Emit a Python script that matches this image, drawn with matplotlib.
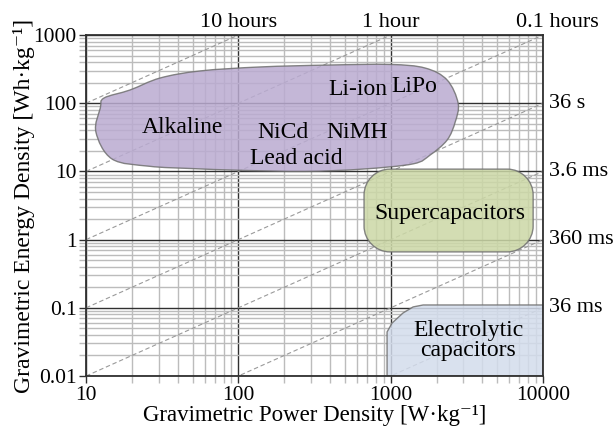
import numpy as np
import matplotlib
matplotlib.use("Agg")
from matplotlib import pyplot as plt
from matplotlib.path import Path
from matplotlib.patches import PathPatch
from matplotlib.ticker import LogLocator, NullFormatter, FixedLocator, FixedFormatter

plt.rcParams['font.family'] = ['Liberation Serif', 'DejaVu Serif']
plt.rcParams['mathtext.fontset'] = 'stix'

# axis ticks
x_ticks = [10, 100, 1000, 10000]
x_labels = ['10', '100', '1000', '10000']
y_ticks = [0.01, 0.1, 1, 10, 100, 1000]
y_labels = ['0.01', '0.1', '1', '10', '100', '1000']

# constant discharge time lines (hours)
hours = [10, 1, 0.1, 0.01, 0.001, 0.0001, 0.00001]
top_labels = ['10 hours', '1 hour', '0.1 hours']
top_pos = [100, 1000, 12500]
right_labels = ['36 s', '3.6 ms', '360 ms', '36 ms']
right_pos = [100, 10, 1, 0.1]

# region outlines (power W/kg, energy Wh/kg)
battery_p = [11.6, 12.4, 13.1, 19.4, 30.6, 56, 139, 400, 990, 1680, 2345, 2770,
             2650, 2345, 1815, 1403, 649, 274, 100, 50, 26, 14.8]
battery_e = [37.8, 85, 119, 156, 234, 297, 340, 363, 370, 328, 219, 100,
             53, 28.8, 17.4, 12.9, 10.8, 10.0, 10.4, 11.0, 11.9, 15.2]

supercap_box = [668, 8610, 0.66, 10.8]   # pmin, pmax, emin, emax

elec_p = [946, 946, 1021, 1205, 1403, 1633, 10000, 10000]
elec_e = [0.01, 0.0442, 0.0598, 0.084, 0.103, 0.110, 0.110, 0.01]

labels = ['Alkaline', 'NiCd', 'NiMH', 'Lead acid', 'Li-ion', 'LiPo',
          'Supercapacitors', 'Electrolytic\ncapacitors']
label_p = [42.7, 196, 601, 239, 611, 1425, 2455, 3222]
label_e = [43.3, 36.6, 37.8, 15.2, 161, 173, 2.45, 0.033]


def smooth_closed(px, py):
    # catmull-rom through the points, done in log space
    pts = np.column_stack([np.log10(px), np.log10(py)])
    n = len(pts)
    verts = [pts[0]]
    codes = [Path.MOVETO]
    for i in range(n):
        p0 = pts[i - 1]
        p1 = pts[i]
        p2 = pts[(i + 1) % n]
        p3 = pts[(i + 2) % n]
        verts += [p1 + (p2 - p0) / 6, p2 - (p3 - p1) / 6, p2]
        codes += [Path.CURVE4] * 3
    verts.append(pts[0])
    codes.append(Path.CLOSEPOLY)
    return Path(10 ** np.array(verts), codes)


def rounded_box(x0, x1, y0, y1, rx, ry):
    a0, a1, b0, b1 = np.log10([x0, x1, y0, y1])
    k = 0.55
    v = [(a0 + rx, b0), (a1 - rx, b0),
         (a1 - rx + k * rx, b0), (a1, b0 + ry - k * ry), (a1, b0 + ry),
         (a1, b1 - ry),
         (a1, b1 - ry + k * ry), (a1 - rx + k * rx, b1), (a1 - rx, b1),
         (a0 + rx, b1),
         (a0 + rx - k * rx, b1), (a0, b1 - ry + k * ry), (a0, b1 - ry),
         (a0, b0 + ry),
         (a0, b0 + ry - k * ry), (a0 + rx - k * rx, b0), (a0 + rx, b0),
         (a0 + rx, b0)]
    c = [Path.MOVETO, Path.LINETO] + [Path.CURVE4] * 3 + [Path.LINETO] + \
        [Path.CURVE4] * 3 + [Path.LINETO] + [Path.CURVE4] * 3 + [Path.LINETO] + \
        [Path.CURVE4] * 3 + [Path.CLOSEPOLY]
    return Path(10 ** np.array(v), c)


fig = plt.figure(figsize=(6.15, 4.30), dpi=100)
ax = fig.add_axes([0.140, 0.1256, 0.743, 0.793])
ax.set_xscale('log')
ax.set_yscale('log')
ax.set_xlim(10, 10000)
ax.set_ylim(0.01, 1000)

ax.xaxis.set_major_locator(FixedLocator(x_ticks))
ax.xaxis.set_major_formatter(FixedFormatter(x_labels))
ax.yaxis.set_major_locator(FixedLocator(y_ticks))
ax.yaxis.set_major_formatter(FixedFormatter(y_labels))
ax.xaxis.set_minor_locator(LogLocator(10, subs=range(2, 10)))
ax.yaxis.set_minor_locator(LogLocator(10, subs=range(2, 10)))
ax.xaxis.set_minor_formatter(NullFormatter())
ax.yaxis.set_minor_formatter(NullFormatter())

ax.set_axisbelow(True)
ax.grid(which='minor', color='#bcbcbc', lw=1.0)
ax.grid(which='major', color='#303030', lw=1.0)
ax.tick_params(which='major', direction='out', length=5, width=1.0,
               color='#303030', labelsize=15.5, pad=2)
ax.tick_params(which='minor', direction='out', length=5, width=1.0,
               color='#bcbcbc')
for s in ax.spines.values():
    s.set_color('#303030')
    s.set_linewidth(1.3)

pp = np.array([10, 10000])
for h in hours:
    ax.plot(pp, pp * h, color='#9a9a9a', lw=0.8, ls=(0, (4, 2.5)), zorder=1.5)

ax.add_patch(PathPatch(smooth_closed(battery_p, battery_e), fc='#baabd1',
                       ec='#707070', lw=1.0, alpha=0.85, zorder=2))
ax.add_patch(PathPatch(rounded_box(*supercap_box, 0.17, 0.38), fc='#ccd8a6',
                       ec='#707070', lw=1.0, alpha=0.85, zorder=2))
ax.fill(elec_p, elec_e, fc='#d3dcec', ec='#707070', lw=1.0, alpha=0.85, zorder=2)

for t, p, e in zip(labels, label_p, label_e):
    ax.text(p, e, t, ha='center', va='center', fontsize=17, zorder=4,
            linespacing=0.95)

for t, p in zip(top_labels, top_pos):
    ax.text(p, 1.01, t, transform=ax.get_xaxis_transform(), ha='center',
            va='bottom', fontsize=16, clip_on=False)
for t, e in zip(right_labels, right_pos):
    ax.text(1.013, e, t, transform=ax.get_yaxis_transform(), ha='left',
            va='center', fontsize=16, clip_on=False)

ax.set_xlabel('Gravimetric Power Density [W\u00b7kg\u207b\u00b9]', fontsize=16.5,
              labelpad=0)
ax.set_ylabel('Gravimetric Energy Density [Wh\u00b7kg\u207b\u00b9]', fontsize=17,
              labelpad=-1)

fig.savefig('out.png', dpi=100)
